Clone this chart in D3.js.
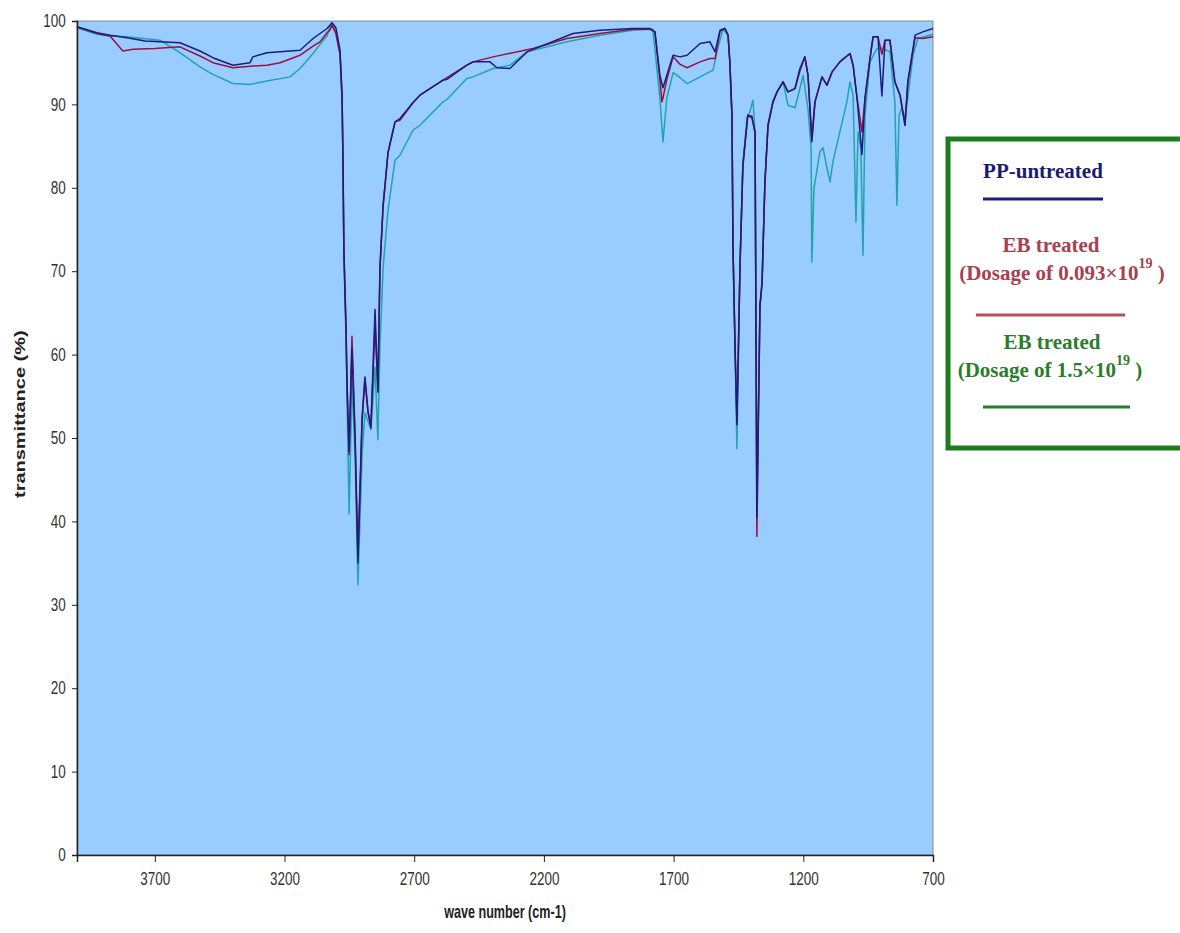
<!DOCTYPE html>
<html>
<head>
<meta charset="utf-8">
<script src="https://cdn.jsdelivr.net/npm/d3@7"></script>
<style>
  body { margin: 0; background: #fff; }
  .axis text { font-family: "Liberation Sans", Arial, sans-serif; font-size: 18px; fill: #333; }
  .axis path, .axis line { stroke: #222; }
  .legend text { font-family: "Liberation Serif", "Times New Roman", serif; }
</style>
</head>
<body>
<div id="chart"></div>
<script>
// wave number (cm-1), transmittance (%)
var untreated = [
  [4000, 99.3], [3923, 98.6], [3873, 98.3], [3807, 98.0], [3738, 97.6], [3680, 97.5],
  [3603, 97.4], [3526, 96.4], [3476, 95.6], [3399, 94.7], [3333, 95.0], [3322, 95.7],
  [3268, 96.2], [3217, 96.3], [3140, 96.5], [3090, 97.9], [3063, 98.5], [3036, 99.1],
  [3017, 99.8], [3002, 99.2], [2986, 96.5], [2978, 91.0], [2975, 84.2], [2971, 72.7],
  [2963, 63.5], [2959, 56.7], [2951, 48.4], [2940, 60.8], [2928, 49.8], [2917, 35.0],
  [2901, 52.0], [2890, 57.3], [2878, 53.2], [2867, 51.2], [2851, 65.4], [2840, 55.5],
  [2832, 70.4], [2820, 77.8], [2801, 84.2], [2774, 87.9], [2755, 88.3], [2705, 90.2],
  [2678, 91.1], [2589, 92.9], [2574, 93.0], [2497, 94.7], [2473, 95.1], [2408, 95.1],
  [2381, 94.4], [2331, 94.3], [2265, 96.3], [2088, 98.5], [1984, 98.9], [1857, 99.1],
  [1791, 99.1], [1772, 98.7], [1753, 93.5], [1741, 92.0], [1726, 93.5], [1702, 95.9],
  [1675, 95.7], [1648, 95.9], [1598, 97.3], [1560, 97.5], [1540, 96.3], [1521, 98.9],
  [1502, 99.1], [1490, 98.3], [1483, 95.0], [1475, 88.7], [1471, 72.8], [1463, 60.8],
  [1456, 51.6], [1444, 70.8], [1433, 82.7], [1414, 88.7], [1398, 88.4], [1386, 86.7],
  [1379, 40.5], [1367, 65.9], [1359, 68.7], [1348, 80.7], [1336, 87.5], [1317, 90.3],
  [1301, 91.5], [1278, 92.7], [1259, 91.5], [1232, 91.9], [1213, 94.3], [1194, 95.7],
  [1182, 93.5], [1167, 85.5], [1155, 90.3], [1128, 93.3], [1109, 92.3], [1089, 93.9],
  [1059, 95.1], [1020, 96.1], [1008, 94.7], [993, 90.8], [974, 84.0], [962, 90.8],
  [943, 95.5], [931, 98.1], [912, 98.1], [897, 91.0], [885, 97.7], [866, 97.7],
  [847, 92.7], [827, 91.1], [808, 87.5], [797, 92.7], [769, 98.3], [739, 98.7], [700, 99.1]
];

var dose093 = [
  [4000, 99.3], [3923, 98.5], [3873, 98.2], [3823, 96.4], [3784, 96.6], [3700, 96.7],
  [3603, 96.9], [3526, 95.8], [3476, 95.0], [3399, 94.4], [3322, 94.6], [3268, 94.7],
  [3217, 95.0], [3140, 95.9], [3090, 97.0], [3063, 97.5], [3036, 98.6], [3025, 98.9],
  [3017, 99.5], [3002, 98.5], [2986, 96.0], [2978, 90.5], [2975, 84.0], [2971, 72.0],
  [2963, 63.0], [2959, 56.0], [2951, 48.0], [2940, 62.2], [2928, 50.5], [2917, 36.0],
  [2901, 52.5], [2890, 57.0], [2878, 53.0], [2867, 51.5], [2851, 63.5], [2840, 55.8],
  [2832, 70.4], [2820, 77.8], [2801, 84.2], [2774, 87.9], [2755, 88.1], [2705, 90.2],
  [2678, 91.1], [2589, 92.9], [2497, 94.7], [2473, 95.1], [2396, 95.7], [2242, 96.7],
  [2111, 97.9], [1984, 98.5], [1857, 99.0], [1791, 99.0], [1772, 98.7], [1753, 93.0],
  [1745, 90.3], [1741, 90.8], [1726, 93.0], [1702, 95.7], [1675, 94.8], [1648, 94.4],
  [1598, 95.1], [1560, 95.5], [1540, 95.5], [1533, 96.7], [1521, 98.8], [1502, 99.1],
  [1490, 98.3], [1483, 95.0], [1475, 88.5], [1471, 72.5], [1463, 60.5], [1456, 52.0],
  [1444, 70.5], [1433, 82.5], [1414, 88.7], [1398, 88.6], [1386, 86.5], [1379, 38.2],
  [1367, 66.0], [1359, 68.5], [1348, 80.5], [1336, 87.5], [1317, 90.3], [1301, 91.5],
  [1278, 92.7], [1259, 91.5], [1232, 91.9], [1213, 94.0], [1194, 95.7], [1182, 93.5],
  [1167, 86.0], [1155, 90.3], [1128, 93.3], [1109, 92.3], [1089, 93.9], [1059, 95.1],
  [1020, 96.1], [1008, 94.7], [993, 90.8], [974, 86.7], [962, 90.8], [943, 95.5],
  [931, 98.1], [912, 98.1], [897, 96.0], [885, 97.7], [866, 97.7], [847, 92.7],
  [827, 91.1], [808, 87.5], [797, 92.7], [769, 98.0], [739, 97.9], [700, 98.1]
];

var dose15 = [
  [4000, 99.2], [3923, 98.4], [3873, 98.2], [3807, 98.1], [3680, 97.7], [3603, 96.2],
  [3526, 94.5], [3476, 93.6], [3399, 92.5], [3333, 92.4], [3268, 92.8], [3179, 93.3],
  [3140, 94.3], [3090, 96.1], [3063, 97.2], [3036, 98.2], [3025, 99.3], [3017, 99.6],
  [3002, 98.8], [2986, 96.0], [2978, 90.5], [2975, 83.5], [2971, 72.0], [2963, 62.0],
  [2959, 55.0], [2951, 40.9], [2940, 56.7], [2928, 48.0], [2917, 32.4], [2901, 48.0],
  [2890, 53.0], [2878, 52.0], [2867, 51.0], [2851, 58.5], [2840, 49.8], [2832, 61.0],
  [2820, 70.4], [2801, 77.3], [2774, 83.3], [2755, 83.9], [2705, 86.9], [2678, 87.5],
  [2589, 90.3], [2574, 90.6], [2497, 93.1], [2473, 93.3], [2396, 94.3], [2331, 94.7],
  [2265, 96.3], [2111, 97.5], [1984, 98.3], [1857, 98.9], [1780, 99.0], [1753, 90.8],
  [1741, 85.5], [1726, 90.8], [1702, 93.8], [1675, 93.2], [1648, 92.5], [1598, 93.3],
  [1548, 94.1], [1529, 96.8], [1510, 99.0], [1490, 98.3], [1483, 95.0], [1475, 88.7],
  [1471, 72.8], [1463, 60.8], [1456, 48.7], [1444, 70.8], [1433, 82.7], [1417, 88.4],
  [1406, 89.1], [1394, 90.5], [1386, 86.7], [1379, 42.0], [1367, 65.5], [1359, 68.7],
  [1348, 80.7], [1336, 87.5], [1317, 90.3], [1301, 91.5], [1278, 92.7], [1259, 89.9],
  [1232, 89.6], [1213, 91.9], [1201, 93.5], [1182, 89.5], [1170, 84.8], [1167, 71.1],
  [1159, 79.9], [1136, 84.3], [1124, 84.8], [1109, 82.4], [1097, 80.7], [1086, 83.1],
  [1059, 86.7], [1032, 90.3], [1020, 92.7], [1008, 91.1], [997, 75.9], [989, 86.7],
  [978, 84.8], [970, 71.9], [962, 88.7], [943, 95.1], [916, 96.7], [893, 96.7],
  [866, 96.3], [847, 90.3], [839, 77.9], [831, 88.7], [820, 89.6], [808, 88.4],
  [797, 90.8], [777, 95.9], [758, 97.9], [700, 98.4]
];

var xTicks = [3700, 3200, 2700, 2200, 1700, 1200, 700];
var yTicks = [0, 10, 20, 30, 40, 50, 60, 70, 80, 90, 100];

var series = [
  { name: "EB treated 1.5", data: dose15, color: "#22a3ad" },
  { name: "EB treated 0.093", data: dose093, color: "#9a1040" },
  { name: "PP-untreated", data: untreated, color: "#1c1c80" }
];

var width = 1180, height = 933;
var margin = { top: 21, right: 247, bottom: 78, left: 77 };
var w = width - margin.left - margin.right,
    h = height - margin.top - margin.bottom;

// the source picture is squeezed sideways, so the text is too
var squeeze = 0.75;

var svg = d3.select("#chart").append("svg")
    .attr("width", width)
    .attr("height", height);

var x = d3.scaleLinear().domain([4000, 700]).range([0, w]);
var y = d3.scaleLinear().domain([0, 100]).range([h, 0]);

var g = svg.append("g")
    .attr("transform", "translate(" + margin.left + "," + margin.top + ")");

// plot area
g.append("rect")
    .attr("width", w)
    .attr("height", h)
    .style("fill", "#99ccff")
    .style("stroke", "#8a8a8a")
    .style("stroke-width", 1);

var line = d3.line()
    .x(function(d) { return x(d[0]); })
    .y(function(d) { return y(d[1]); });

g.selectAll(".series")
    .data(series)
  .enter().append("path")
    .attr("class", "series")
    .attr("d", function(d) { return line(d.data); })
    .style("fill", "none")
    .style("stroke", function(d) { return d.color; })
    .style("stroke-width", 1.5)
    .style("stroke-linejoin", "round");

var yAxis = g.append("g")
    .attr("class", "axis")
    .call(d3.axisLeft(y).tickValues(yTicks).tickSize(5).tickPadding(10));

var xAxis = g.append("g")
    .attr("class", "axis")
    .attr("transform", "translate(0," + h + ")")
    .call(d3.axisBottom(x).tickValues(xTicks).tickFormat(d3.format("d"))
      .tickSize(7).tickPadding(10));

yAxis.selectAll("text").attr("transform", "scale(" + squeeze + ",1)");
xAxis.selectAll("text").attr("transform", "scale(" + squeeze + ",1)");
g.selectAll(".axis .domain").style("stroke-width", 1.5);

// axis titles
svg.append("text")
    .attr("transform", "translate(25,498) rotate(-90) scale(1,0.75)")
    .attr("text-anchor", "start")
    .style("font-family", "'Liberation Sans', Arial, sans-serif")
    .style("font-size", "20px")
    .style("font-weight", "bold")
    .style("fill", "#222")
    .text("transmittance (%)");

svg.append("text")
    .attr("transform", "translate(505,918) scale(0.7,1)")
    .attr("text-anchor", "middle")
    .style("font-family", "'Liberation Sans', Arial, sans-serif")
    .style("font-size", "18px")
    .style("font-weight", "bold")
    .style("fill", "#222")
    .text("wave number (cm-1)");

// legend
var legend = svg.append("g").attr("class", "legend");

legend.append("rect")
    .attr("x", 948)
    .attr("y", 139)
    .attr("width", 240)
    .attr("height", 309)
    .style("fill", "#fff")
    .style("stroke", "#1d7d1d")
    .style("stroke-width", 5);

var entries = [
  { lines: [["PP-untreated"]], cx: [1043], color: "#1c1c6e", y: 178,
    lineY: 199, x1: 983, x2: 1103, line: "#1c1c80" },
  { lines: [["EB treated"], ["(Dosage of 0.093\u00d710", "19", " )"]], cx: [1051, 1062],
    color: "#a8404f", y: 252, lineY: 315, x1: 976, x2: 1125, line: "#b05060" },
  { lines: [["EB treated"], ["(Dosage of 1.5\u00d710", "19", " )"]], cx: [1052, 1050],
    color: "#2a7d2a", y: 349, lineY: 407, x1: 983, x2: 1130, line: "#1f7f2a" }
];

entries.forEach(function(e) {
  e.lines.forEach(function(parts, i) {
    var t = legend.append("text")
        .attr("x", e.cx[i])
        .attr("y", e.y + i * 28)
        .attr("text-anchor", "middle")
        .style("font-size", "21px")
        .style("font-weight", "bold")
        .style("fill", e.color);
    t.append("tspan").text(parts[0]);
    if (parts.length > 1) {
      t.append("tspan")
          .attr("dy", -12)
          .style("font-size", "14px")
          .text(parts[1]);
      t.append("tspan")
          .attr("dy", 12)
          .text(parts[2]);
    }
  });
  legend.append("line")
      .attr("x1", e.x1)
      .attr("x2", e.x2)
      .attr("y1", e.lineY)
      .attr("y2", e.lineY)
      .style("stroke", e.line)
      .style("stroke-width", 3);
});
</script>
</body>
</html>
